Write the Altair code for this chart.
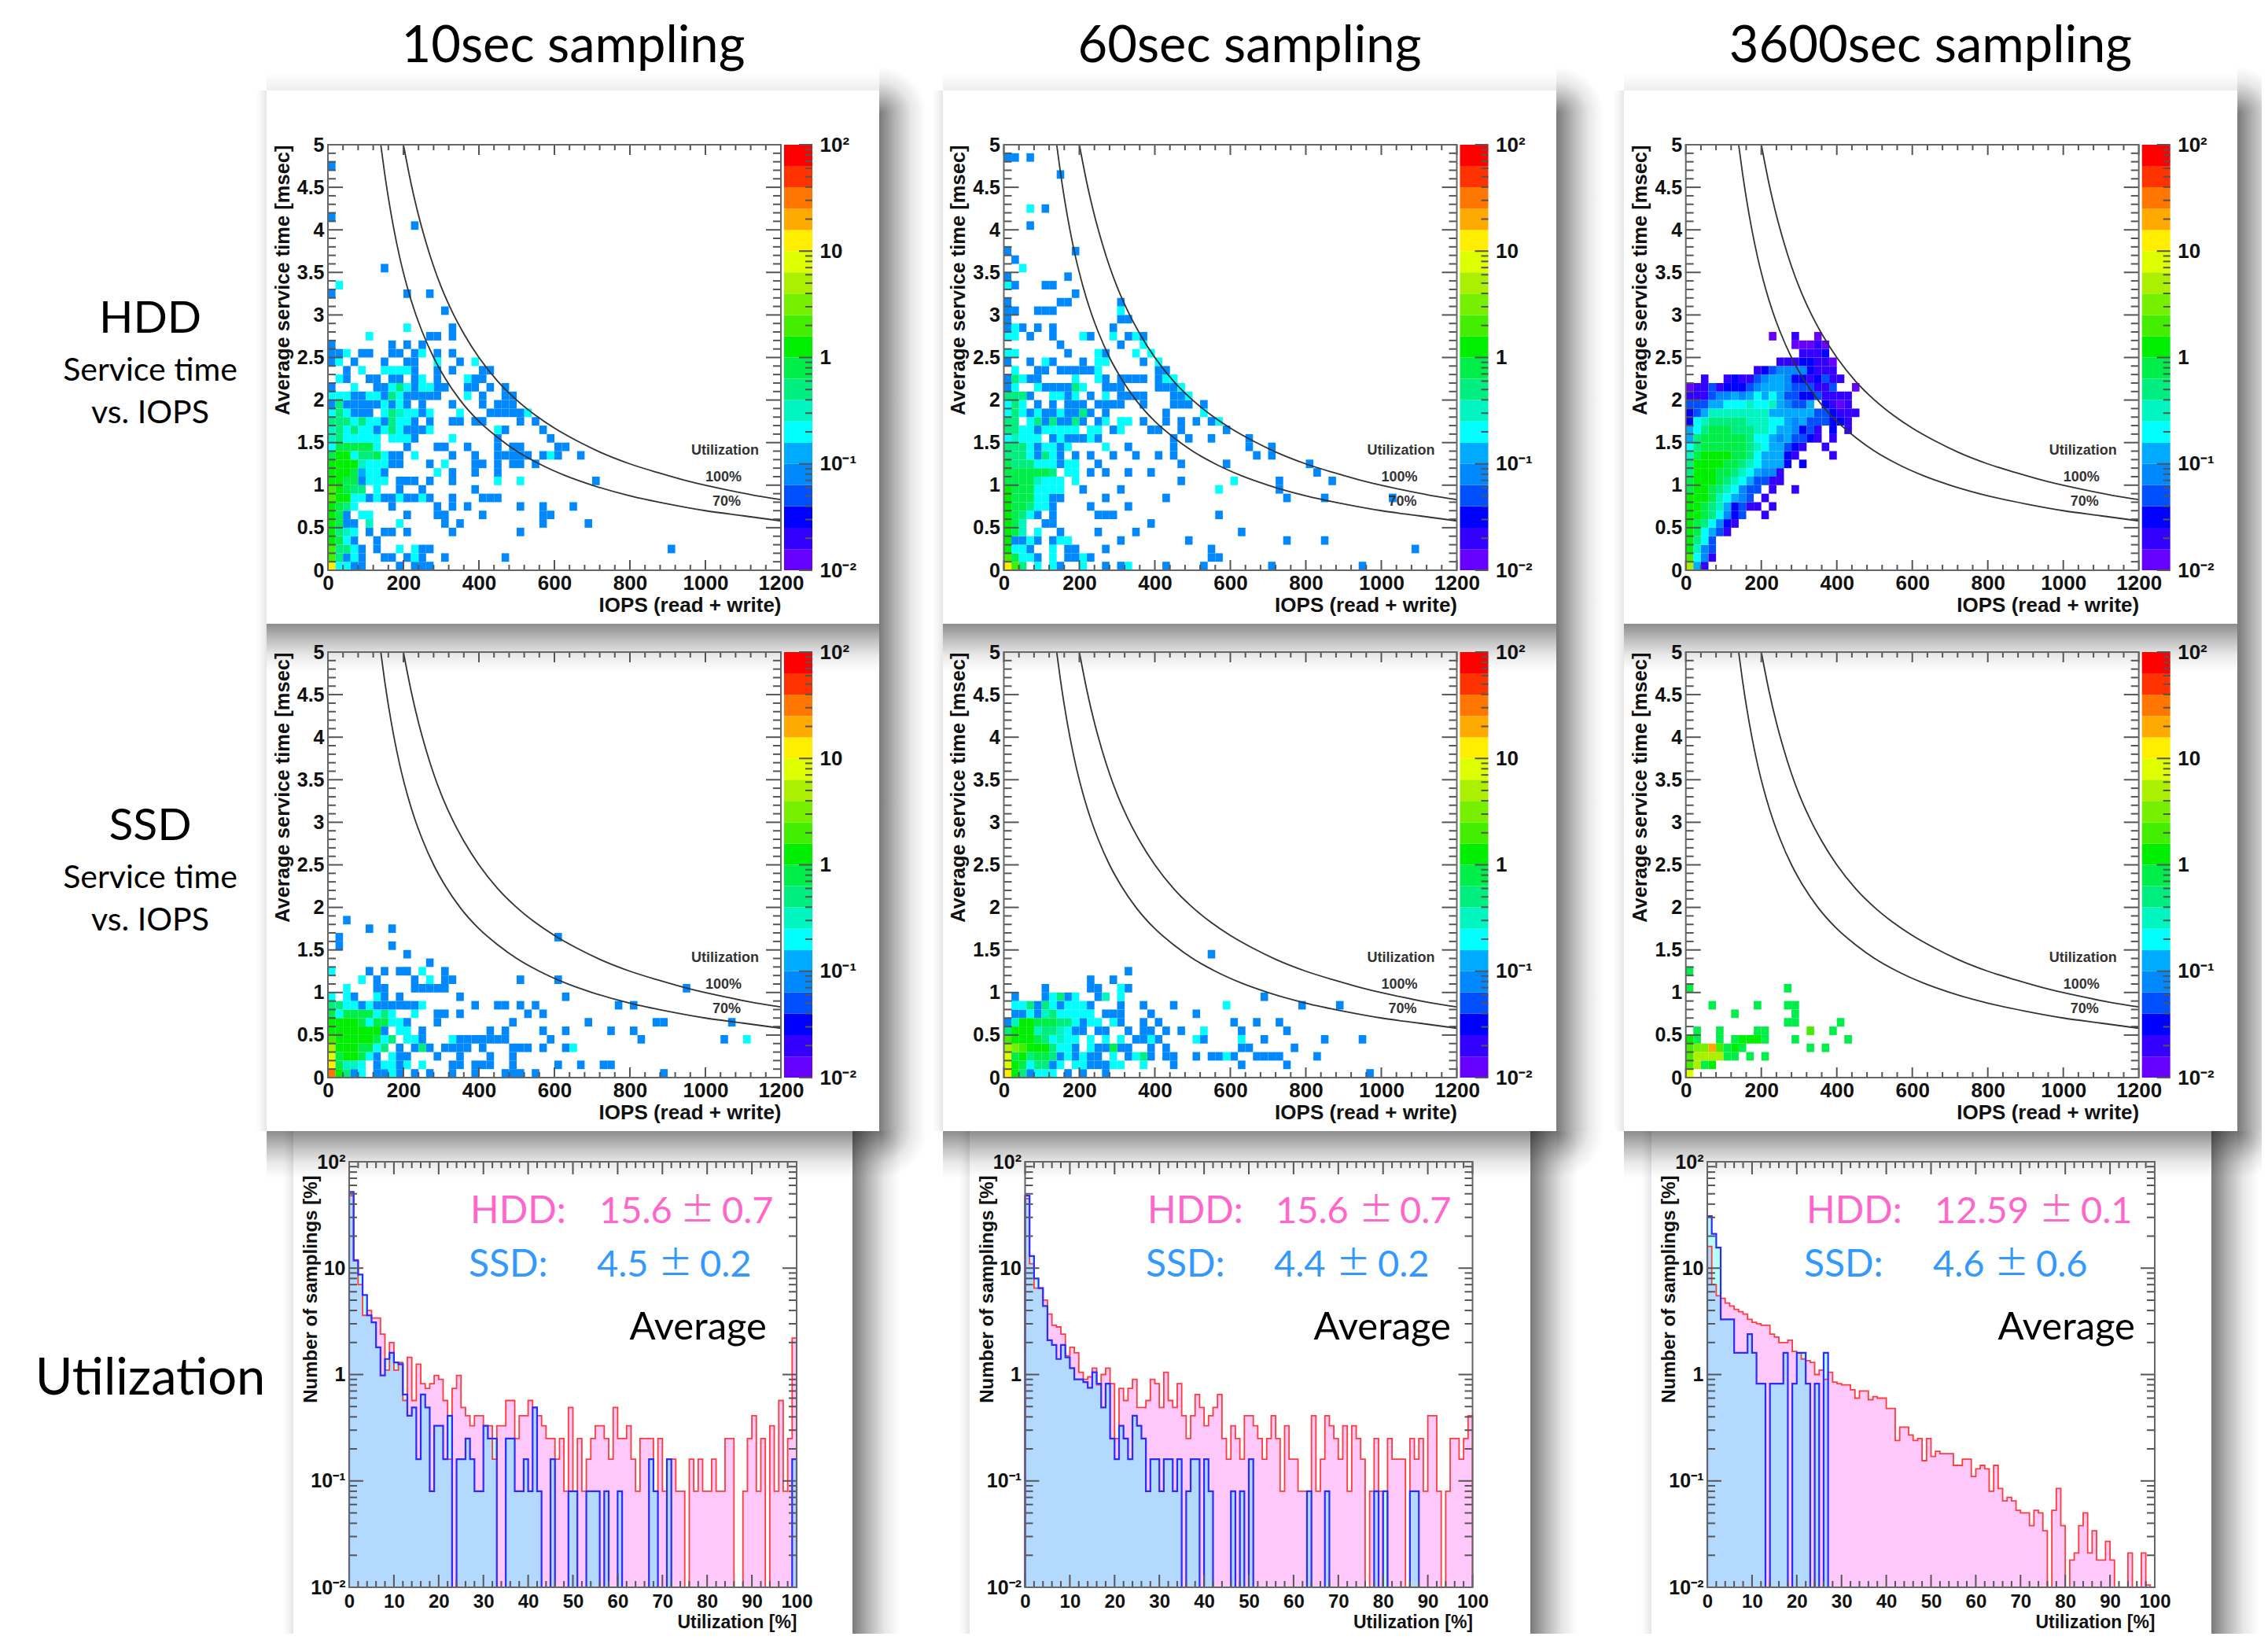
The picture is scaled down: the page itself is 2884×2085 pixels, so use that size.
import altair as alt

W, H = 2868, 2069
ONE = alt.Data(values=[{"k": 1}])
LABEL_FONT = "Liberation Sans"
SLIDE_FONT = "Lato"
TICK = "#555555"

# ---------- colour palette of the z axis (bottom to top) ----------
PALETTE = ["#6600ff", "#3300ff", "#0000ff", "#0050ff", "#0088ff", "#00aaff", "#00ffff",
           "#00f5c0", "#00ee80", "#00ee4a", "#00ee00", "#44ee00", "#77f000", "#aaf000",
           "#ddff00", "#ffee00", "#ffaa00", "#ff7700", "#ff3300", "#ff0000"]
Z_EDGES = [0.01, 0.0158, 0.0251, 0.0398, 0.0631, 0.1, 0.158, 0.251, 0.398, 0.631, 1.0,
           1.58, 2.51, 3.98, 6.31, 10.0, 15.8, 25.1, 39.8, 63.1, 100.0]

# ---------- utilisation iso-curves ----------
IOPS_100 = [200, 220, 240, 260, 280, 300, 330, 360, 400, 450, 500, 550, 600, 660, 720, 800, 880, 960, 1050, 1130, 1200]
MS_100 = [5.0, 4.55, 4.17, 3.85, 3.57, 3.33, 3.03, 2.78, 2.5, 2.22, 2.0, 1.82, 1.67, 1.52, 1.39, 1.25, 1.14, 1.04, .95, .88, .83]
IOPS_70 = [140, 150, 160, 175, 190, 210, 230, 250, 280, 310, 350, 400, 450, 500, 560, 630, 700, 800, 900, 1000, 1100, 1200]
MS_70 = [5.0, 4.67, 4.38, 4.0, 3.68, 3.33, 3.04, 2.8, 2.5, 2.26, 2.0, 1.75, 1.56, 1.4, 1.25, 1.11, 1.0, .875, .78, .7, .64, .58]

# ---------- 2D histograms: row -> "colour level:columns" ----------
HDD_10 = {
    0: "15:0 6:1,2 4:3,4,9,11-13", 1: "11:0 8:1 4:2,4,7,8,10,12,15,23 6:3,11", 2: "11:0 8:1,2 6:3,9,11 4:4,6,12,13,45",
    3: "10:0 9:1 6:2 4:3,6", 4: "10:0 8:1 7:2 6:3 4:5,7,8,10,16,25", 5: "10:0 9:1 4:2,3,15,17,28,34 7:5 6:9",
    6: "10:0 9:1 4:2,10,14,15,20,28,29 6:4,5", 7: "10:0 9:1 8:2 6:3 4:8,14,16,18,25,28,32",
    8: "11:0 10:1,2 6:3,4,6,9,12 4:5,7,8,10,11,13,16,20-22", 9: "11:0 10:1 9:2 8:3,4 6:6 4:9,12,19",
    10: "10:0,1 9:2,3 4:4,9-11,13,16,35 6:5-7,22,25", 11: "10:0-2 9:3 5:4 6:5,6,14 4:7,16,19,22",
    12: "10:0-3 7:4 6:5-7,15 4:8,9,13,19,20,22,24,25,27", 13: "9:0,6 10:1,2 6:3,7,11,29 8:4,5 4:8,9,16,19,22-26,28,30,33",
    14: "6:0,6 9:1-5 4:10,14,15,18,22,24,25,30,31", 15: "7:0 8:1 6:2-6,8-10,16 4:11,22,29",
    16: "7:0 8:1,3,8 6:2,4,5,7,9,13,22 4:6,10-12,23,28", 17: "8:0-2,4,8 6:3,5,6,9,10 4:7,11,13,16,17,19,20,25,27",
    18: "6:0,2,7,10,11,13,17,26 8:1,8 4:3-5,12,21-25 7:9", 19: "4:0,2-6,8,10,12,16,20,22-24 8:1 6:7,9",
    20: "6:0-2,5,6,9,18 4:3,4,7,10-14,20,23,24 8:8", 21: "4:0,6,7,11,14,15,18,19,21,23 6:3,8,10,12,13 8:9",
    22: "6:1,12,18 4:2,5,6,8,9,11,14,19,20", 23: "4:2,11,14,16,20,21 6:4,7-10", 24: "4:0,3,7,10,11,17 6:1,14,19",
    25: "4:0,1,4,5,8,9,11,14,16 6:2,12", 26: "4:0,8,10,12", 27: "6:5 4:13,14,16", 28: "6:10 4:16", 30: "4:15",
    32: "4:0,10,13", 33: "6:1", 35: "4:7", 40: "4:11", 41: "4:0", 47: "4:0",
}
HDD_60 = {
    0: "15:0 11:1 8:2 6:4,6,10,16 4:7,13,15,21,26,35,47", 1: "11:0 9:1 6:2,3,6,10 4:4,8,9,11,27,28",
    2: "10:0 6:1,2,6 4:3,8,9,13,27,54", 3: "10:0 4:1,2,4,6,15,24,37,42 6:3,7,8", 4: "10:0 9:1 7:2 6:4 4:7,12,17,31",
    5: "10:0 9:1 7:2 4:5,6,19", 6: "10:0 9:1 8:2 6:3 4:4,6,12-14,28", 7: "10:0 9:1,2 8:3 6:4,5 4:6,11,16",
    8: "10:0 9:1-3 6:4,5 4:6,7,13,21,37,42,51", 9: "10:0 9:1-3 6:4-7,28 4:10,15,36",
    10: "9:0-3 7:4 6:5-7,9,30 4:23,36,43", 11: "9:0-5 8:6 6:8,9 4:11,13,16,19,41", 12: "9:0 8:1-3 6:4-6,8,9 4:7,12,23,29,40",
    13: "8:0-2,5 6:3,6 4:4,7,9,11,14,17,20,22,33,35", 14: "8:0-2 6:3,5,6,8,13 4:4,7,16,22,32,35",
    15: "6:0,2-4,7,11 7:1 4:6,8-10,12,22,24,27,32", 16: "8:0,1 6:2,3,5-9,11,12,15 4:4,14,19,20,23,29",
    17: "8:0,1,4,6,9 6:3,13,15,16,28 4:5,7,8,10,12,18,21,23,25,27", 18: "6:0,2,4,7,26 8:1,10 4:3,5,6,8,9,11,13,21",
    19: "6:0,2 8:1 4:4,6,8-10,12-15,18,22-24,26", 20: "8:0-2 4:3,8,11,15-18,22,23 6:6,7,9,13,24",
    21: "4:0,5-8,13-15,20-22 6:1,4,10,23 8:9", 22: "4:0,3,4,13,15-18,20 8:1 6:2,9,12,21,22", 23: "6:1,12 4:4,5,7-11,20,21",
    24: "4:0,3,6,10,18 6:5,12,13,20", 25: "6:0,1,12,17,19 4:8,13", 26: "4:7,15 6:18", 27: "6:0,1,10,14,17 4:3,6,11,16,18",
    28: "4:0,2,4,6,14 6:1", 29: "4:0,15,16", 30: "4:0,1,4-6 6:15", 31: "4:0,7,8,15", 32: "4:9", 33: "6:0 4:1,5,6",
    34: "4:0,8", 35: "6:2", 36: "4:1", 37: "4:0,9", 40: "4:3", 42: "6:3 4:5", 46: "4:7", 48: "4:0,1,3",
}
HDD_3600 = {
    0: "13:0 5:1 1:2", 1: "11:0 6:1 4:2 1:3", 2: "10:0 7:1 4:2 3:3", 3: "10:0 8:1 6:2 3:3",
    4: "10:0 9:1 6:2 5:3 3:4 1:5", 5: "10:0 9:1 8:2 6:3 4:4 2:5 1:6", 6: "10:0,1 9:2 8:3 6:4 4:5 2:6 3:7 1:10",
    7: "10:0,1 9:2 8:3 7:4 5:5 2:6 3:7 1:8,9,11", 8: "10:0-2 9:3 7:4 6:5 5:6 4:7 3:8 1:10",
    9: "9:0 10:1,2 9:3 8:4 7:5 6:6 4:7 3:8,9 1:11,14", 10: "9:0 10:1-3 9:4 8:5 7:6 6:7 5:8 3:9,10 1:11,12",
    11: "8:0 10:1-3 9:4,5 8:6 7:7 6:8 5:9 4:10,11 1:12", 12: "8:0 10:1-4 9:5,6 8:7 7:8 6:9 5:10-12 2:13,15",
    13: "7:0 9:1 10:2-5 9:6,7 8:8 6:9 5:10-12 2:13 1:14,19", 14: "6:0 8:1 9:2-7 8:8 7:9 6:10 5:11,12 3:13 2:14 1:15,18",
    15: "5:0 8:1 9:2-7 8:8 6:9,10 5:11,13 4:12 3:14,15 2:16 1:17,19", 16: "5:0 6:1 8:2 9:3-5 8:6-8 7:9,10 6:11 5:12,13 4:14 2:15,19 3:16 1:17,21",
    17: "2:0,19,20 6:1,11,12 7:2,8-10 8:3-7 5:13,15 4:14 3:16-18 1:21", 18: "2:0,19 3:1,17,18 5:2,11-16 7:3-10 1:20-22",
    19: "3:0-2,14,15 5:3,4,12,16 6:5-7,9,10 7:8,11 4:13 2:18 1:19,21 0:20", 20: "1:0-2,18-21 3:3,13,14,17 4:4,5,7 5:6,8,10,12 6:9,11 2:15,16",
    21: "0:0,22 1:1,2,4,17,18 3:3,8,14-16,19 2:5-7 4:9,13 5:10-12", 22: "1:2,5,7,8,16,19,20 2:6,14,15,17 3:9,18 4:10,13 5:11,12",
    23: "1:9,17-19 2:10,16 3:11 4:12-15", 24: "1:12-14,17,18 2:15,16 0:19", 25: "1:15-17 2:18", 26: "0:14-16,18 1:17", 27: "0:11,17 1:14",
}
SSD_10 = {
    0: "17:0 10:1 8:2 4:3,6,7,9,11,13,16,19,23-25,27,44 6:4,8", 1: "15:0 9:1 7:2,3 6:4,7,8,10,12 4:6,9,16,17,19-21,24,30,33,36,37",
    2: "14:0 9:1,4 10:2,3 6:5,8 4:6,9,10,14,17,21,24", 3: "13:0 10:1-3 9:4,5 6:6 8:7,12 4:9,11,13,15-18,20,24-26,28,31 6:32",
    4: "11:0 10:1-5 9:6 6:7,10,11,16,55 8:8 4:12,17-23,29,41,52", 5: "10:0-6 4:7,12,21,23,28,31,37,40 6:9,10",
    6: "10:0-3 9:4,6,7 6:5,8,9 4:10,14,24,34,43,44,53", 7: "9:0,2-5 6:1,6,8,11 8:7 4:14,15,17,26,28",
    8: "8:0,1 6:2,3,5,12 4:4,6-11,19,22,23,25,27,38,40", 9: "6:0,2,6 4:3,7,9,17,31", 10: "6:2 4:6,7,11-15,47",
    11: "6:4,13 4:6,11,15,16,25,30", 12: "6:0,12 4:5,7,9,10,15", 13: "4:13", 14: "4:10", 15: "4:1,8", 16: "4:1,30", 17: "4:5,8", 18: "4:2",
}
SSD_60 = {
    0: "15:0 10:1 8:2 4:3,8,10,13,48 6:4-6", 1: "14:0 10:1 9:2 6:3,7,9,10,14,15,18 8:4,5 4:6,11-13,22,31,37",
    2: "14:0 9:1,4,5 10:2 8:3,6 4:7,9,11,12,16,19,21,22,25,27,28,30,33-36,41 6:8,10,14,17,29 8:18",
    3: "13:0 12:1 11:2 10:3-5 8:6 6:7,8,11 4:9,12,13,15,16,19,21,31,32,38 9:14",
    4: "11:0 10:1-3 9:4 8:5 6:6,8,9,11,13,15,19,25,31 7:7 4:17,18,20,26,34,42,47",
    5: "8:0 10:1-3 7:4,7 8:5,6 6:8,26 4:9,10,12,13,16,18,19,21,23,31,37", 6: "4:0,10,15,18,20,30,33,36 7:1 10:2,3 9:4-6 8:7,8 6:9,11,12,14",
    7: "4:1,2,4,13-15,19,25 6:3,7-11 7:5 8:6", 8: "6:1,2,6,8-10,29 8:3,5 4:4,7,11,15,18,22,39,44",
    9: "4:1,5,8,12,34 6:6,9,15 8:7 7:13", 10: "4:5,11,12,16 6:15", 11: "4:11,14", 12: "4:16", 14: "4:27",
}
SSD_3600 = {
    0: "14:0", 1: "11:0 13:1 9:2 10:3", 2: "11:0 13:1-4 9:5,6,8,10", 3: "11:0,4 12:1,2 16:3 9:5,7,16,18 10:6",
    4: "10:0 9:1,4,6,10,14,21 10:7-9", 5: "9:1,4,9,10,19 11:16", 6: "9:13,14,20", 7: "9:6,14", 8: "9:3,9,13,14", 10: "9:0,13", 12: "9:0",
}

# ---------- 1D histograms (percent per 1% bin) ----------
U10_HDD = [48, 12, 7, 3.6, 4, 3.4, 3.4, 2.4, 1.1, 2, 1.1, 1.3, .57, 1.45, .57, 1.25, .82, .74, .82, .98,
           .9, .57, .16, .74, .98, .49, .41, .33, .41, .41, .33, .33, .16, .33, .33, .57, .57, .25, .41, .41,
           .57, .49, .41, .33, .25, .25, .16, .25, .08, .49, .08, .25, .08, .16, .25, .33, .33, .25, .16, .49,
           .25, .25, .33, .16, .08, .25, .25, .25, .08, .25, .08, .16, .16, .08, .08, 0, .16, .08, .16, .08,
           .08, .16, .08, .08, .25, .25, 0, 0, .08, .25, .41, .08, .25, 0, .33, .08, .57, .08, .25, 2.2]
U10_SSD = [52, 11.8, 8.7, 5.6, 3.6, 3.1, 1.8, .98, 1.4, 1.6, 1.3, 1.25, .65, .41, .49, .16, .65, .49, .08, .33,
           .33, .16, .41, 0, .16, .16, .25, .16, .08, .08, .33, .25, .25, 0, 0, .25, .25, .08, .08, .16,
           .08, .49, .08, 0, 0, .16, 0, 0, 0, .08, .08, 0, 0, .08, .08, .08, 0, .08, 0, 0,
           .08, 0, 0, 0, 0, 0, 0, .16, .08, 0, 0, .16, 0, 0, 0, 0, 0, 0, 0, 0,
           0, 0, 0, 0, 0, 0, 0, 0, 0, 0, 0, 0, 0, 0, 0, 0, 0, 0, 0, .16]
U60_HDD = [45, 11, 6.5, 6.5, 5, 3.7, 2.9, 2.8, 2.4, 1.5, 1.8, 1.6, 1.05, .9, .95, 1.15, .8, 1.0, 1.15, .82,
           .25, .74, .57, .74, .9, .49, .49, .57, .9, .82, .49, 1.05, .57, .49, .82, .41, .25, .41, .65, .49,
           .33, .41, .49, .65, .25, .16, .33, .25, .16, .41, .41, .33, .25, .16, .25, .41, .25, .08, .33, .16,
           .16, .08, .08, .08, .41, .08, .16, .41, .33, .25, .16, .33, .08, .33, .25, .16, 0, .08, .25, .08,
           0, .25, .16, .16, .16, 0, .25, .16, .25, .08, .41, .41, .08, 0, .08, .25, .25, .16, .25, .41]
U60_SSD = [48, 13, 8, 6.5, 4.4, 2.1, 1.9, 1.4, 1.9, 1.45, 1.15, .9, .9, .85, .75, 1.05, .82, .49, .82, .25,
           .16, .33, .25, .16, .41, .33, .25, .08, .16, .16, .08, .16, .16, .08, .16, 0, .08, .16, .16, 0,
           .16, .08, 0, 0, 0, 0, .08, 0, .08, 0, .16, 0, 0, 0, 0, 0, 0, 0, 0, 0,
           0, 0, 0, .08, 0, 0, 0, .08, 0, 0, 0, 0, 0, 0, 0, 0, 0, 0, .08, 0,
           .08, 0, 0, 0, 0, 0, .08, .08, 0, 0, 0, 0, 0, 0, 0, 0, 0, 0, 0, 0]
U3600_HDD = [16, 7, 5.5, 5.2, 4.7, 4.4, 4.1, 3.9, 3.7, 3.3, 3.1, 3, 2.9, 2.9, 2.4, 2.25, 2, 2, 2.1, 1.65,
             1.6, 1.4, 1.35, 1.3, 1, 1.1, .9, 1.05, .85, .82, .8, .8, .72, .6, .7, .7, .58, .62, .6, .6,
             .48, .48, .24, .32, .32, .27, .24, .25, .155, .25, .17, .19, .18, .18, .18, .14, .14, .16, .16, .11,
             .13, .14, .13, .08, .14, .085, .065, .07, .065, .053, .05, .05, .038, .053, .05, .034, 0, .053, .085, .038,
             0, .018, .021, .038, .05, .021, .034, .018, .018, .027, .018, 0, 0, 0, .021, 0, 0, .021, .0105, 0]
U3600_SSD = [30.8, 21, 15.6, 3.3, 3.3, 3.3, 1.6, 1.6, 1.6, 2.4, 1.6, .82, .82, 0, .82, .82, .82, 1.6, 0, .82,
             1.6, 1.6, .82, 0, .82, 0, 1.6] + [0] * 73

# ---------- tick values ----------
IOPS_MAJOR = [0, 200, 400, 600, 800, 1000, 1200]
IOPS_MINOR = [v for v in range(0, 1201, 40) if v % 200]
MS_MAJOR = [0, .5, 1, 1.5, 2, 2.5, 3, 3.5, 4, 4.5, 5]
MS_MINOR = [.1, .2, .3, .4, .6, .7, .8, .9, 1.1, 1.2, 1.3, 1.4, 1.6, 1.7, 1.8, 1.9, 2.1, 2.2, 2.3, 2.4,
            2.6, 2.7, 2.8, 2.9, 3.1, 3.2, 3.3, 3.4, 3.6, 3.7, 3.8, 3.9, 4.1, 4.2, 4.3, 4.4, 4.6, 4.7, 4.8, 4.9]
LOG_MAJOR = [.01, .1, 1, 10, 100]
LOG_MINOR = [.02, .03, .04, .05, .06, .07, .08, .09, .2, .3, .4, .5, .6, .7, .8, .9,
             2, 3, 4, 5, 6, 7, 8, 9, 20, 30, 40, 50, 60, 70, 80, 90]
UTIL_MAJOR = list(range(0, 101, 10))
UTIL_MINOR = [v for v in range(0, 101, 2) if v % 10]
LOG_LABEL = ("datum.value >= 100 ? '10²' : datum.value >= 10 ? '10' : datum.value >= 1 ? '1' : "
             "datum.value >= 0.1 ? '10⁻¹' : '10⁻²'")

layers = []


def text(s, x, y, size, color="#000000", font=SLIDE_FONT, weight="normal", align="center"):
    layers.append(alt.Chart(ONE).mark_text(text=s, font=font, fontSize=size, fontWeight=weight, color=color,
                                           align=align, baseline="alphabetic")
                  .encode(x=alt.value(x - 8), y=alt.value(y - 8)))


def box(x0, y0, x1, y1, **mark):
    layers.append(alt.Chart(ONE).mark_rect(**mark).encode(
        x=alt.value(x0 - 8), x2=alt.value(x1 - 8), y=alt.value(y0 - 8), y2=alt.value(y1 - 8)))


def stops(alpha):
    return [alt.GradientStop(color=f"rgba(0,0,0,{alpha})", offset=0),
            alt.GradientStop(color=f"rgba(0,0,0,{alpha * .55:.3f})", offset=.35),
            alt.GradientStop(color=f"rgba(0,0,0,{alpha * .18:.3f})", offset=.68),
            alt.GradientStop(color="rgba(0,0,0,0)", offset=1)]


def linear(alpha, x1, y1, x2, y2):
    return alt.LinearGradient(gradient="linear", stops=stops(alpha), x1=x1, y1=y1, x2=x2, y2=y2)


def radial(alpha, cx, cy):
    return alt.RadialGradient(gradient="radial", stops=stops(alpha), x1=cx, y1=cy, x2=cx, y2=cy, r1=0, r2=1)


def card(x0, y0, x1, y1, bottom=True, corner=False, top_fade=False):
    s = 60
    box(x0 - 14, y0, x0, y1, color=linear(.10, 1, 0, 0, 0))
    box(x0, y0 - 26, x1, y0, color=linear(.07, 0, 1, 0, 0))
    start = y0 + 30 if top_fade else y0
    box(x1, start, x1 + s, y1, color=linear(.52, 0, 0, 1, 0))
    if top_fade:
        box(x1, start - s, x1 + s, start, color=radial(.52, 0, 1))
    if bottom:
        box(x0, y1, x1, y1 + s, color=linear(.45, 0, 0, 0, 1))
    if corner:
        box(x1, y1, x1 + s, y1 + s, color=radial(.48, 0, 0))
    box(x0, y0, x1, y1, color="#ffffff")


def ticks(values, horizontal, scale, a, b):
    """Inside tick marks: a,b are the fixed pixel ends across the axis."""
    data = alt.Data(values=[{"v": v} for v in values])
    m = alt.Chart(data).mark_rule(color=TICK, strokeWidth=2)
    if horizontal:  # ticks on a vertical axis
        layers.append(m.encode(y=alt.Y("v:Q", scale=scale, axis=None), x=alt.value(a - 8), x2=alt.value(b - 8)))
    else:
        layers.append(m.encode(x=alt.X("v:Q", scale=scale, axis=None), y=alt.value(a - 8), y2=alt.value(b - 8)))


def frame(x0, y0, x1, y1, xscale, yscale, xmajor, xminor, ymajor, yminor, ml, mn, yml, ymn):
    ticks(xmajor, False, xscale, y1, y1 - ml)
    ticks(xminor, False, xscale, y1, y1 - mn)
    ticks(xmajor, False, xscale, y0, y0 + ml)
    ticks(xminor, False, xscale, y0, y0 + mn)
    ticks(ymajor, True, yscale, x0, x0 + yml)
    ticks(yminor, True, yscale, x0, x0 + ymn)
    ticks(ymajor, True, yscale, x1, x1 - yml)
    ticks(yminor, True, yscale, x1, x1 - ymn)
    box(x0, y0, x1, y1, filled=False, stroke="#666666", strokeWidth=2)


def parse(cells):
    out = []
    for row, spec in cells.items():
        for tok in spec.split():
            lvl, cols = tok.split(":")
            for part in cols.split(","):
                a, _, b = part.partition("-")
                for c in range(int(a), int(b or a) + 1):
                    out.append({"x0": c * 20, "x1": (c + 1) * 20, "y0": row * .1, "y1": (row + 1) * .1,
                                "z": (Z_EDGES[int(lvl)] * Z_EDGES[int(lvl) + 1]) ** .5})
    return out


ZSCALE = alt.Scale(type="threshold", domain=Z_EDGES[1:-1], range=PALETTE)


def heat(cells, x0, y0):
    w, h = 576, 541
    x1, y1 = x0 + w, y0 + h
    xs = alt.Scale(domain=[0, 1200], range=[x0 - 8, x1 - 8], nice=False, zero=False)
    ys = alt.Scale(domain=[0, 5], range=[y1 - 8, y0 - 8], nice=False, zero=False)
    xaxis = alt.Axis(orient="bottom", offset=y1 - 8 - H, values=IOPS_MAJOR, format="d", ticks=False, domain=False,
                     grid=False, labelFont=LABEL_FONT, labelFontWeight="bold", labelFontSize=26, labelColor="#111111",
                     labelPadding=3, labelOverlap=False, labelFlush=False, title="IOPS (read + write)",
                     titleFont=LABEL_FONT, titleFontWeight="bold", titleFontSize=26, titleColor="#111111",
                     titleAnchor="end", titlePadding=2, zindex=1)
    yaxis = alt.Axis(orient="left", offset=-(x0 - 8), values=MS_MAJOR, format="~g", ticks=False, domain=False,
                     grid=False, labelFont=LABEL_FONT, labelFontWeight="bold", labelFontSize=25, labelColor="#111111",
                     labelPadding=5, labelOverlap=False, title="Average service time [msec]",
                     titleFont=LABEL_FONT, titleFontWeight="bold", titleFontSize=25.5, titleColor="#111111",
                     titleAnchor="end", titlePadding=5, zindex=1)
    layers.append(alt.Chart(alt.Data(values=parse(cells))).mark_rect().encode(
        x=alt.X("x0:Q", scale=xs, axis=xaxis), x2="x1:Q",
        y=alt.Y("y0:Q", scale=ys, axis=yaxis), y2="y1:Q",
        color=alt.Color("z:Q", scale=ZSCALE, legend=None)))
    for iops, ms in ((IOPS_100, MS_100), (IOPS_70, MS_70)):
        layers.append(alt.Chart(alt.Data(values=[{"a": a, "b": b} for a, b in zip(iops, ms)]))
                      .mark_line(color="#333333", strokeWidth=1.8, interpolate="monotone")
                      .encode(x=alt.X("a:Q", scale=xs, axis=None), y=alt.Y("b:Q", scale=ys, axis=None)))
    text("Utilization", x0 + 505, y0 + 394, 18, "#333333", LABEL_FONT, "bold")
    text("100%", x0 + 503, y0 + 428, 18, "#333333", LABEL_FONT, "bold")
    text("70%", x0 + 507, y0 + 459, 18, "#333333", LABEL_FONT, "bold")
    frame(x0, y0, x1, y1, xs, ys, IOPS_MAJOR, IOPS_MINOR, MS_MAJOR, MS_MINOR, 13, 7, 19, 10)
    # colour bar
    cx0, cx1 = x0 + 580, x0 + 616
    zs = alt.Scale(type="log", domain=[.01, 100], range=[y1 - 8, y0 - 8], nice=False)
    zaxis = alt.Axis(orient="right", offset=cx1 - 8 - W, values=LOG_MAJOR, ticks=False, domain=False, grid=False,
                     labelFont=LABEL_FONT, labelFontWeight="bold", labelFontSize=26, labelColor="#111111",
                     labelPadding=9, labelOverlap=False, labelExpr=LOG_LABEL, title=None, zindex=1)
    bands = [{"lo": a, "hi": b, "z": (a * b) ** .5} for a, b in zip(Z_EDGES[:-1], Z_EDGES[1:])]
    layers.append(alt.Chart(alt.Data(values=bands)).mark_rect().encode(
        x=alt.value(cx0 - 8), x2=alt.value(cx1 - 8),
        y=alt.Y("lo:Q", scale=zs, axis=zaxis), y2="hi:Q",
        color=alt.Color("z:Q", scale=ZSCALE, legend=None)))
    ticks(LOG_MAJOR, True, zs, cx1, cx1 - 17)
    ticks(LOG_MINOR, True, zs, cx1, cx1 - 9)


def area_points(vals):
    pts = [(float(i), max(v, .01)) for i, v in enumerate(vals)] + [(100.0, max(vals[-1], .01))]
    return [{"u": u, "p": p, "b": .01} for u, p in pts]


def steps(vals):
    pts = [(0.0, .01)] + [(float(i), max(v, .01)) for i, v in enumerate(vals)] + [(100.0, max(vals[-1], .01)), (100.0, .01)]
    return [{"i": k, "u": u, "p": p} for k, (u, p) in enumerate(pts)]


def hist(hdd, ssd, x0, notes, avg_right):
    assert len(hdd) == 100 and len(ssd) == 100
    y0, w, h = 1477, 569, 541
    x1, y1 = x0 + w, y0 + h
    xs = alt.Scale(domain=[0, 100], range=[x0 - 8, x1 - 8], nice=False, zero=False)
    ys = alt.Scale(type="log", domain=[.01, 100], range=[y1 - 8, y0 - 8], nice=False)
    xaxis = alt.Axis(orient="bottom", offset=y1 - 8 - H, values=UTIL_MAJOR, ticks=False, domain=False, grid=False,
                     labelFont=LABEL_FONT, labelFontWeight="bold", labelFontSize=24, labelColor="#111111",
                     labelPadding=6, labelOverlap=False, labelFlush=False, title="Utilization [%]",
                     titleFont=LABEL_FONT, titleFontWeight="bold", titleFontSize=23, titleColor="#111111",
                     titleAnchor="end", titlePadding=3, zindex=1)
    yaxis = alt.Axis(orient="left", offset=-(x0 - 8), values=LOG_MAJOR, ticks=False, domain=False, grid=False,
                     labelFont=LABEL_FONT, labelFontWeight="bold", labelFontSize=25, labelColor="#111111",
                     labelPadding=5, labelOverlap=False, labelExpr=LOG_LABEL, title="Number of samplings [%]",
                     titleFont=LABEL_FONT, titleFontWeight="bold", titleFontSize=24, titleColor="#111111",
                     titleAnchor="end", titlePadding=-13, titleY=1486, zindex=1)
    h_line, s_line = alt.Data(values=steps(hdd)), alt.Data(values=steps(ssd))
    overlap = [min(a, b) for a, b in zip(hdd, ssd)]
    layers.append(alt.Chart(alt.Data(values=area_points(hdd))).mark_area(color="#ffc8fb", interpolate="step-after").encode(
        x=alt.X("u:Q", scale=xs, axis=xaxis), y=alt.Y("p:Q", scale=ys, axis=yaxis), y2="b:Q"))
    layers.append(alt.Chart(alt.Data(values=area_points(ssd))).mark_area(color="#b6ffff", interpolate="step-after").encode(
        x=alt.X("u:Q", scale=xs, axis=None), y=alt.Y("p:Q", scale=ys, axis=None), y2="b:Q"))
    layers.append(alt.Chart(alt.Data(values=area_points(overlap))).mark_area(color="#b3d9ff", interpolate="step-after").encode(
        x=alt.X("u:Q", scale=xs, axis=None), y=alt.Y("p:Q", scale=ys, axis=None), y2="b:Q"))
    layers.append(alt.Chart(h_line).mark_line(color="#ff3b3b", strokeWidth=1.8, interpolate="step-after").encode(
        x=alt.X("u:Q", scale=xs, axis=None), y=alt.Y("p:Q", scale=ys, axis=None), order="i:Q"))
    layers.append(alt.Chart(s_line).mark_line(color="#2b2bff", strokeWidth=2.2, interpolate="step-after").encode(
        x=alt.X("u:Q", scale=xs, axis=None), y=alt.Y("p:Q", scale=ys, axis=None), order="i:Q"))
    frame(x0, y0, x1, y1, xs, ys, UTIL_MAJOR, UTIL_MINOR, LOG_MAJOR, LOG_MINOR, 16, 8, 18, 10)
    for (name, nx, val, vx, pm, tail, tx), base, col in zip(notes, (1555, 1623), ("#ff66cc", "#3399ff")):
        text(name, nx - 3, base, 48, col, align="left")
        text(val, vx, base, 47, col, align="left")
        text("±", pm, base - 1, 44, col, font="Noto Sans CJK JP")
        text(tail, tx, base, 47, col, align="left")
    text("Average", avg_right, 1703, 49, "#000000", align="right")


# ---------- slide cards (lowest row first so upper shadows fall on lower cards) ----------
for c in [(373, 1438, 1084, 2085), (1233, 1438, 1946, 2085), (2100, 1438, 2812, 2085)]:
    card(*c, bottom=False)
for c in [(339, 793, 1118, 1438), (1199, 793, 1979, 1438), (2065, 793, 2845, 1438)]:
    card(*c, corner=True)
for c in [(339, 115, 1118, 793), (1199, 115, 1979, 793), (2065, 115, 2845, 793)]:
    card(*c, top_fade=True)

# ---------- slide headings ----------
for label, cx in (("10sec sampling", 729), ("60sec sampling", 1589), ("3600sec sampling", 2455)):
    text(label, cx, 79, 65)
text("HDD", 191, 423, 57)
text("Service time", 191, 484, 41)
text("vs. IOPS", 191, 538, 41)
text("SSD", 191, 1068, 57)
text("Service time", 191, 1129, 41)
text("vs. IOPS", 191, 1183, 41)
text("Utilization", 191, 1773, 65)

# ---------- panels ----------
for cells, x0, y0 in ((HDD_10, 417, 184), (HDD_60, 1276.5, 184), (HDD_3600, 2143.7, 184),
                      (SSD_10, 417, 829), (SSD_60, 1276.5, 829), (SSD_3600, 2143.7, 829)):
    heat(cells, x0, y0)

hist(U10_HDD, U10_SSD, 444, (("HDD:", 601, "15.6", 762, 887, "0.7", 918), ("SSD:", 599, "4.5", 759, 859, "0.2", 890)), 975)
hist(U60_HDD, U60_SSD, 1303.5, (("HDD:", 1462, "15.6", 1622, 1750, "0.7", 1780), ("SSD:", 1460, "4.4", 1620, 1721, "0.2", 1752)), 1845)
hist(U3600_HDD, U3600_SSD, 2171, (("HDD:", 2300, "12.59", 2460, 2615, "0.1", 2646), ("SSD:", 2297, "4.6", 2458, 2558, "0.6", 2589)), 2715)

chart = (alt.layer(*layers)
         .resolve_scale(x="independent", y="independent", color="independent")
         .resolve_axis(x="independent", y="independent")
         .properties(width=W, height=H, padding=0, background="#ffffff",
                     autosize=alt.AutoSizeParams(type="none", contains="padding"))
         .configure_view(stroke=None))

chart.save("out.html", embed_options={"renderer": "svg", "actions": False})
